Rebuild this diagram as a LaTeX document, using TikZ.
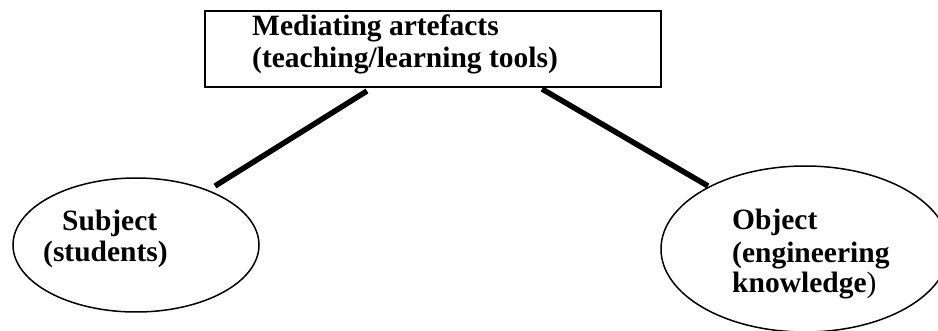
\documentclass[tikz,border=0pt]{standalone}
\usepackage{fontspec}
\setmainfont{Liberation Serif}
\usetikzlibrary{shapes.geometric}
\begin{document}
\begin{tikzpicture}[x=1pt,y=-1pt,
  lbl/.style={font=\fontsize{29.5}{32}\selectfont\bfseries, anchor=base west, inner sep=0pt},
  oval/.style={draw, ellipse, line width=1.5pt, inner sep=0pt},
  conn/.style={line width=5.5pt}]
\useasboundingbox (0,0) rectangle (938,331);
\clip (0,0) rectangle (938,331);
\fill[white] (0,0) rectangle (938,331);
% box
\node[draw, line width=2pt, minimum width=456pt, minimum height=76pt, inner sep=0pt] (box) at (433,49) {};
\node[lbl] (t1) at (252,36) {Mediating artefacts};
\node[lbl] (t2) at (252,68) {(teaching/learning tools)};
% ellipses
\node[oval, minimum width=246pt, minimum height=134pt] (subj) at (136,245) {};
\node[lbl] (s1) at (62,231) {Subject};
\node[lbl] (s2) at (43,262) {(students)};
\node[oval, minimum width=288pt, minimum height=166pt] (obj) at (805,249) {};
\node[lbl] (o1) at (732,230) {Object};
\node[lbl] (o2) at (732,263) {(engineering};
\node[lbl] (o3) at (732,293) {knowledge\mdseries)};
% connectors
\coordinate (a1) at (367,91);
\coordinate (a2) at (215,186);
\coordinate (b1) at (542,89);
\coordinate (b2) at (708,186);
\draw[conn] (a1) -- (a2);
\draw[conn] (b1) -- (b2);
\end{tikzpicture}
\end{document}
